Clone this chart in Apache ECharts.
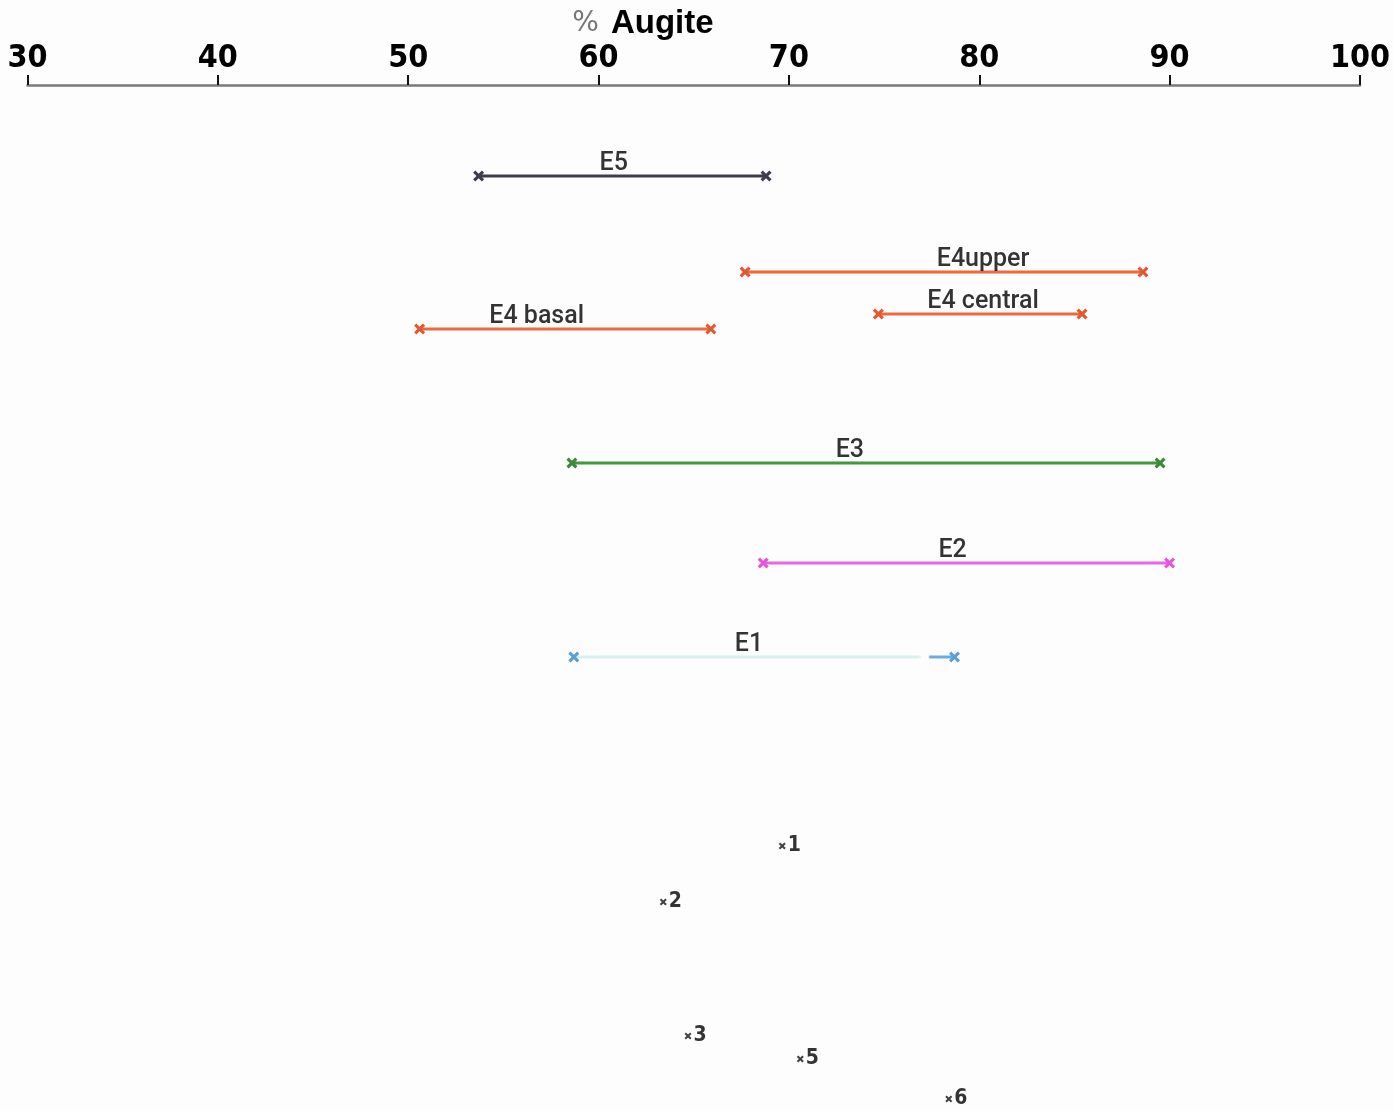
<!DOCTYPE html>
<html>
<head>
<meta charset="utf-8">
<script src="https://cdn.jsdelivr.net/npm/echarts@6/dist/echarts.min.js"></script>
<style>html,body{margin:0;padding:0;background:#fdfdfd;}#c{width:1393px;height:1111px;}</style>
</head>
<body>
<div id="c"></div>
<script>
// ---- data ----
const tickValues = [30, 40, 50, 60, 70, 80, 90, 100];
const rangeNames = ['E5', 'E4upper', 'E4 central', 'E4 basal', 'E3', 'E2', 'E1'];
const rangeMin = [53.7, 67.7, 74.7, 50.6, 58.6, 68.65, 58.7];
const rangeMax = [68.8, 88.6, 85.4, 65.9, 89.5, 90.0, 78.7];
const rangeRow = [91, 187, 229, 244, 378, 478, 572];
const labelAt = [60.8, 80.2, 80.2, 56.75, 73.2, 78.6, 67.9];
const pointNames = ['1', '2', '3', '5', '6'];
const pointValues = [69.65, 63.4, 64.7, 70.6, 78.4];
const pointRows = [761, 817, 951, 974, 1014];

// ---- styles ----
const e1Grad = new echarts.graphic.LinearGradient(0, 0, 1, 0, [
  { offset: 0, color: '#d6f2ee' }, { offset: 0.9, color: '#d6f2ee' },
  { offset: 0.91, color: '#fdfdfd' }, { offset: 0.925, color: '#fdfdfd' },
  { offset: 0.93, color: '#6aaee0' }, { offset: 1, color: '#6aaee0' }
]);
const lineColors = ['#3d3d4d', '#ec6a3c', '#ec6a3c', '#ec6a3c', '#3f9a3a', '#ea66e4', e1Grad];
const markColors = ['#3d3d4d', '#e4582e', '#e4582e', '#e4582e', '#3a8a36', '#e455dc', '#5b9fd6'];
const X = 'path://M2,0 L5,3 L8,0 L10,2 L7,5 L10,8 L8,10 L5,7 L2,10 L0,8 L3,5 L0,2 Z';

const series = [];
rangeNames.forEach((n, i) => {
  series.push({
    type: 'line', name: n,
    data: [[rangeMin[i], rangeRow[i]], [rangeMax[i], rangeRow[i]]],
    symbol: X, symbolSize: 11, showSymbol: true,
    lineStyle: { color: lineColors[i], width: 3 },
    itemStyle: { color: markColors[i] },
    z: 3
  });
});
series.push({
  type: 'scatter', name: 'labels',
  data: rangeNames.map((n, i) => ({ value: [labelAt[i], rangeRow[i]], name: n })),
  symbolSize: 0,
  label: {
    show: true, position: 'top', distance: 0,
    formatter: p => p.name,
    color: '#000', fontSize: 25, fontWeight: 500, fontFamily: 'Roboto, Liberation Sans, Arial, sans-serif'
  },
  z: 5
});
series.push({
  type: 'scatter', name: 'samples',
  data: pointNames.map((n, i) => ({ value: [pointValues[i], pointRows[i]], name: n })),
  symbol: X, symbolSize: 7,
  itemStyle: { color: '#111' },
  label: {
    show: true, position: 'right', distance: 2,
    formatter: p => p.name,
    color: '#000', fontSize: 21, fontWeight: 'bold',
    fontFamily: 'DejaVu Sans Condensed, Liberation Sans Narrow, Arial, sans-serif'
  }
});

const chart = echarts.init(document.getElementById('c'));
chart.setOption({
  animation: false,
  backgroundColor: '#fdfdfd',
  title: {
    text: '{p|%}{a|Augite}',
    left: 638, top: 2, textAlign: 'center',
    textStyle: {
      rich: {
        p: { fontSize: 28, color: '#777', fontWeight: 'normal', fontFamily: 'DejaVu Sans, sans-serif', padding: [0, 12, 0, 0] },
        a: { fontSize: 33, color: '#000', fontWeight: 'bold', fontFamily: 'Liberation Sans, Arial, sans-serif' }
      }
    }
  },
  grid: { left: 27.5, right: 30, top: 85, bottom: 0 },
  xAxis: {
    type: 'value', position: 'top', min: 30, max: 100, interval: 10,
    axisLine: { show: true, lineStyle: { color: '#7a7a7a', width: 2.5 } },
    axisTick: { show: true, length: 10, lineStyle: { color: '#111', width: 2 } },
    axisLabel: {
      margin: 10, color: '#000', fontSize: 32, fontWeight: 'bold',
      fontFamily: 'Liberation Sans Narrow, DejaVu Sans Condensed, Arial, sans-serif',
      formatter: v => tickValues.includes(v) ? String(v) : ''
    },
    splitLine: { show: false }
  },
  yAxis: {
    type: 'value', inverse: true, min: 0, max: 1026, show: false
  },
  series: series
});
</script>
</body>
</html>
